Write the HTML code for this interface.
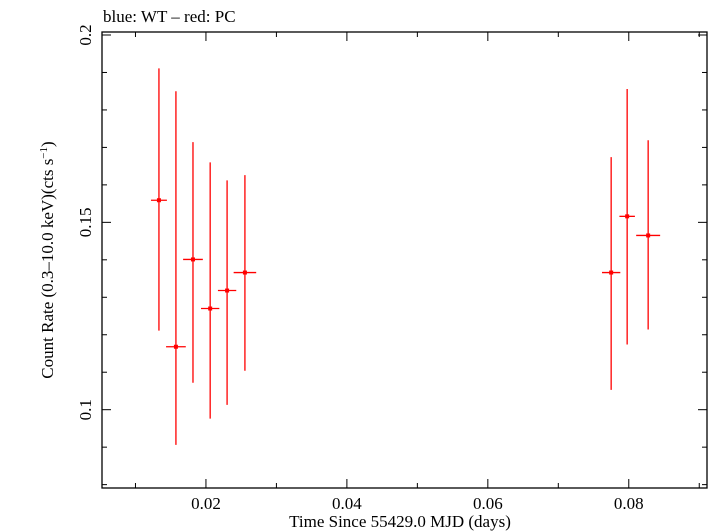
<!DOCTYPE html>
<html><head><meta charset="utf-8"><style>
html,body{margin:0;padding:0;background:#fff;}
svg{display:block;font-family:"Liberation Serif",serif;}
</style></head><body>
<svg id="c" width="709" height="532" viewBox="0 0 709 532">
<text x="103" y="22" font-size="17">blue: WT – red: PC</text>
<rect x="102" y="32" width="605" height="456" fill="none" stroke="#000" stroke-width="1.3"/>
<g id="ticks"></g>
<g id="marks"></g>
<text x="400" y="527" font-size="17" text-anchor="middle">Time Since 55429.0 MJD (days)</text>
<text transform="translate(53,260) rotate(-90)" font-size="17" text-anchor="middle">Count Rate (0.3–10.0 keV)(cts s<tspan dy="-6" font-size="11">−1</tspan><tspan dy="6">)</tspan></text>
</svg>
<script>
const times=[0.01333,0.01574,0.01816,0.0206,0.0230,0.02553,0.0775,0.07977,0.08275];
const timeErr=[0.00113,0.0014,0.0014,0.0013,0.0013,0.0016,0.0013,0.0011,0.0017];
const rates=[0.1559,0.1168,0.1401,0.1270,0.1318,0.1366,0.1366,0.1516,0.1465];
const rateHi=[0.1911,0.1850,0.1714,0.1660,0.1612,0.1626,0.1674,0.1856,0.1719];
const rateLo=[0.1211,0.0906,0.1072,0.0976,0.1013,0.1104,0.1053,0.1174,0.1214];
const xTickLabels=["0.02","0.04","0.06","0.08"];
const yTickLabels=["0.1","0.15","0.2"];

const L=102,R=707,T=32,B=488;
const xmin=0.00525,xmax=0.0911,ymin=0.0791,ymax=0.2008;
const xs=v=>L+(v-xmin)/(xmax-xmin)*(R-L);
const ys=v=>B-(v-ymin)/(ymax-ymin)*(B-T);
const NS="http://www.w3.org/2000/svg";
const tk=document.getElementById('ticks'),mk=document.getElementById('marks');
function mkEl(tag,attrs,parent){const e=document.createElementNS(NS,tag);for(const k in attrs)e.setAttribute(k,attrs[k]);parent.appendChild(e);return e;}
for(let i=1;i<=9;i++){
  const v=i*0.01;const x=xs(v);const major=(i%2===0);const len=major?9:5;
  const t1=mkEl('line',{x1:x,x2:x,y1:B,y2:B-len,stroke:'#000','stroke-width':1},tk);
  
  
  const t2=mkEl('line',{x1:x,x2:x,y1:T,y2:T+len,stroke:'#000','stroke-width':1},tk);
  
  
}
xTickLabels.forEach(s=>{
  const t=mkEl('text',{x:xs(parseFloat(s)),y:509,'font-size':17,'text-anchor':'middle'},tk);
  t.textContent=s;
  
  
});
for(let i=8;i<=20;i++){
  const v=i*0.01;const y=ys(v);const major=(i%5===0);const len=major?9:5;
  const t1=mkEl('line',{x1:L,x2:L+len,y1:y,y2:y,stroke:'#000','stroke-width':1},tk);
  
  
  const t2=mkEl('line',{x1:R,x2:R-len,y1:y,y2:y,stroke:'#000','stroke-width':1},tk);
  
  
}
yTickLabels.forEach(s=>{
  const y=ys(parseFloat(s));
  const t=mkEl('text',{transform:`translate(91,${y}) rotate(-90)`,'font-size':17,'text-anchor':'middle'},tk);
  t.textContent=s;
  
  
});
times.forEach((tv,i)=>{
  const g=mkEl('g',{},mk);
  
  
  const x=xs(tv),y=ys(rates[i]);
  mkEl('line',{x1:x,x2:x,y1:ys(rateHi[i]),y2:ys(rateLo[i]),stroke:'#f00','stroke-width':1.3},g);
  mkEl('line',{x1:xs(tv-timeErr[i]),x2:xs(tv+timeErr[i]),y1:y,y2:y,stroke:'#f00','stroke-width':1.3},g);
  mkEl('rect',{x:x-2,y:y-2,width:4,height:4,fill:'#f00'},g);
});
</script>
</body></html>
